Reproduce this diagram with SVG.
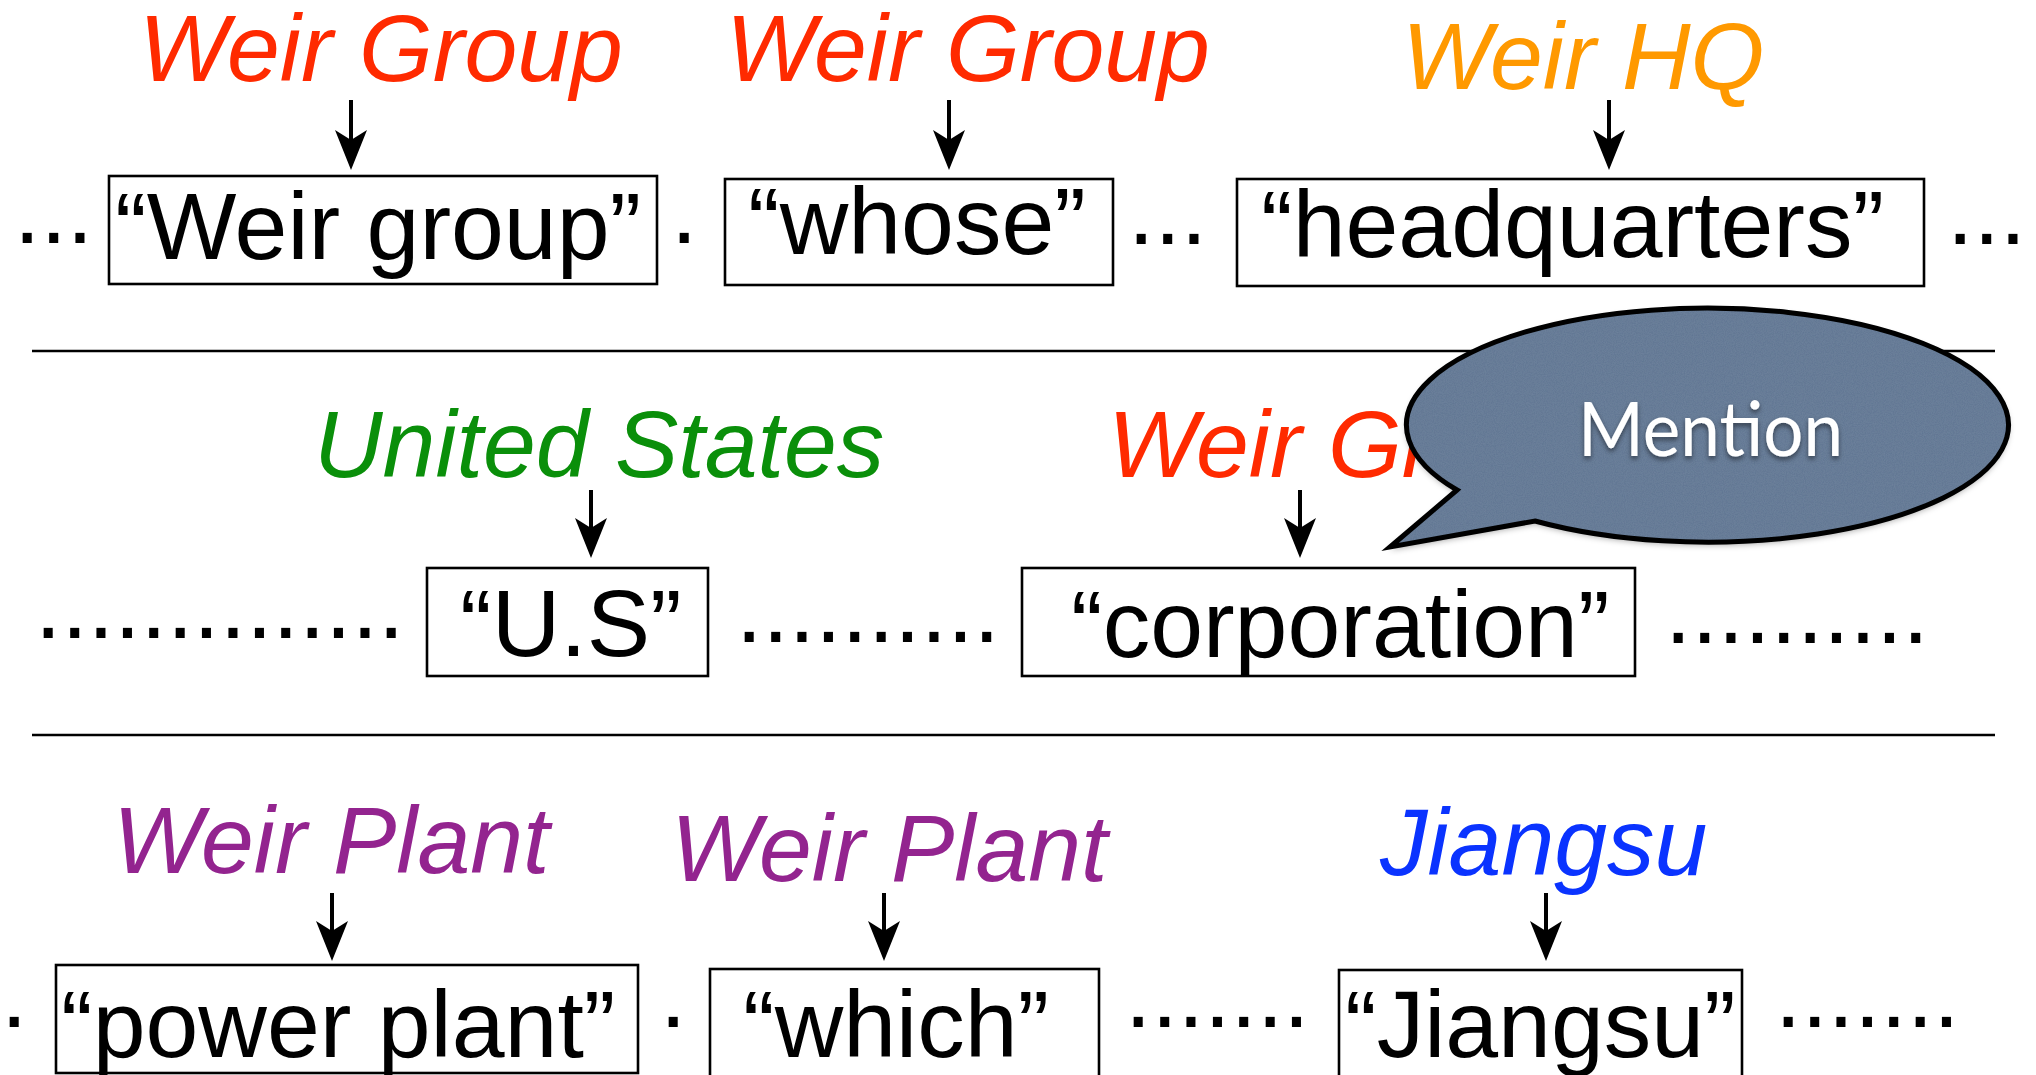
<svg xmlns="http://www.w3.org/2000/svg" width="2036" height="1075" viewBox="0 0 2036 1075">
<style>
.lbl{font-family:"Liberation Sans",Arial,Helvetica,sans-serif;font-style:italic;font-size:95px}
.tok{font-family:"Liberation Sans",Arial,Helvetica,sans-serif;font-size:95px;fill:#000}
.box{fill:#fff;stroke:#000;stroke-width:2.6}
.sep{stroke:#000;stroke-width:2.6}
.arr{stroke:#000;stroke-width:4;fill:none;marker-end:url(#ah)}
.red{fill:#ff2a00}.org{fill:#ff9900}.grn{fill:#0a8f0a}.pur{fill:#93248f}.blu{fill:#0a33ff}
.mention{font-family:Lato,"Open Sans","Noto Sans",sans-serif;font-size:75px;fill:#fff}
</style>
<defs>
<marker id="ah" viewBox="0 0 40 32" refX="10" refY="16" markerWidth="40" markerHeight="32" markerUnits="userSpaceOnUse" orient="auto">
<path d="M0,0 L40,16 L0,32 L10,16 Z" fill="#000"/>
</marker>
<filter id="bshadow" x="-10%" y="-10%" width="120%" height="130%">
<feDropShadow dx="0" dy="3" stdDeviation="3" flood-color="#000" flood-opacity="0.35"/>
</filter>
<filter id="tshadow" x="-10%" y="-20%" width="120%" height="150%">
<feDropShadow dx="0" dy="3" stdDeviation="2.5" flood-color="#000" flood-opacity="0.5"/>
</filter>
<filter id="grain" x="0" y="0" width="100%" height="100%">
<feTurbulence type="fractalNoise" baseFrequency="0.9" numOctaves="2" seed="4" result="n"/>
<feColorMatrix in="n" type="matrix" values="0 0 0 0 0.5  0 0 0 0 0.6  0 0 0 0 0.7  0 0 0 0.12 0" result="g"/>
<feComposite in="g" in2="SourceGraphic" operator="in" result="gi"/>
<feMerge><feMergeNode in="SourceGraphic"/><feMergeNode in="gi"/></feMerge>
</filter>
</defs>
<rect width="2036" height="1075" fill="#fff"/>

<g id="separators">
<line class="sep" x1="32" y1="351" x2="1995" y2="351"/>
<line class="sep" x1="32" y1="735" x2="1995" y2="735"/>
</g>

<g id="ellipses" class="tok">
<text x="14" y="243">...</text>
<text x="671" y="243">.</text>
<text x="1128" y="244">...</text>
<text x="1947" y="244">...</text>
<text x="35" y="638">..............</text>
<text x="736" y="642">..........</text>
<text x="1665" y="643">..........</text>
<text x="1" y="1027">.</text>
<text x="660" y="1027">.</text>
<text x="1125" y="1027">.......</text>
<text x="1775" y="1027">.......</text>
</g>

<!-- Row 1 -->
<g id="ent-weir-group-1"><text class="lbl red" x="139" y="81">Weir Group</text></g>
<g id="ent-weir-group-2"><text class="lbl red" x="726" y="81">Weir Group</text></g>
<g id="ent-weir-hq"><text class="lbl org" x="1402" y="89">Weir HQ</text></g>
<g id="tok-weir-group"><rect class="box" x="109" y="176" width="548" height="108"/><text class="tok" x="115" y="259">“Weir group”</text></g>
<g id="tok-whose"><rect class="box" x="725" y="179" width="388" height="106"/><text class="tok" x="748" y="254">“whose”</text></g>
<g id="tok-headquarters"><rect class="box" x="1237" y="179" width="687" height="107"/><text class="tok" x="1261" y="257">“headquarters”</text></g>

<!-- Row 2 -->
<g id="ent-united-states"><text class="lbl grn" x="314" y="477">United States</text></g>
<g id="ent-weir-group-3"><text class="lbl red" x="1108" y="477">Weir Group</text></g>
<g id="tok-us"><rect class="box" x="427" y="568" width="281" height="108"/><text class="tok" x="460" y="656">“U.S”</text></g>
<g id="tok-corporation"><rect class="box" x="1022" y="568" width="613" height="108"/><text class="tok" x="1071" y="657">“corporation”</text></g>

<!-- Row 3 -->
<g id="ent-weir-plant-1"><text class="lbl pur" x="113" y="873">Weir Plant</text></g>
<g id="ent-weir-plant-2"><text class="lbl pur" x="671" y="881">Weir Plant</text></g>
<g id="ent-jiangsu"><text class="lbl blu" x="1380" y="875">Jiangsu</text></g>
<g id="tok-power-plant"><rect class="box" x="56" y="965" width="582" height="108"/><text class="tok" x="61" y="1057">“power plant”</text></g>
<g id="tok-which"><rect class="box" x="710" y="969" width="389" height="112"/><text class="tok" x="743" y="1057">“which”</text></g>
<g id="tok-jiangsu"><rect class="box" x="1339" y="970" width="403" height="112"/><text class="tok" x="1345" y="1057">“Jiangsu”</text></g>

<g id="connectors">
<line class="arr" x1="351" y1="100" x2="351" y2="140"/>
<line class="arr" x1="949" y1="100" x2="949" y2="140"/>
<line class="arr" x1="1609" y1="100" x2="1609" y2="140"/>
<line class="arr" x1="591" y1="490" x2="591" y2="528"/>
<line class="arr" x1="1300" y1="490" x2="1300" y2="528"/>
<line class="arr" x1="332" y1="893" x2="332" y2="931"/>
<line class="arr" x1="884" y1="893" x2="884" y2="931"/>
<line class="arr" x1="1546" y1="893" x2="1546" y2="931"/>
</g>

<g id="mention-bubble">
<path d="M1457,490 L1390,547 L1535,521 A301,117 0 1 0 1457,490 Z" fill="#5e7592" filter="url(#bshadow)"/>
<path d="M1457,490 L1390,547 L1535,521 A301,117 0 1 0 1457,490 Z" fill="#5e7592" filter="url(#grain)"/>
<path d="M1457,490 L1390,547 L1535,521 A301,117 0 1 0 1457,490 Z" fill="none" stroke="#000" stroke-width="5" stroke-linejoin="miter"/>
<text class="mention" x="1578" y="456" textLength="265" lengthAdjust="spacingAndGlyphs" filter="url(#tshadow)">Mention</text>
</g>
</svg>
